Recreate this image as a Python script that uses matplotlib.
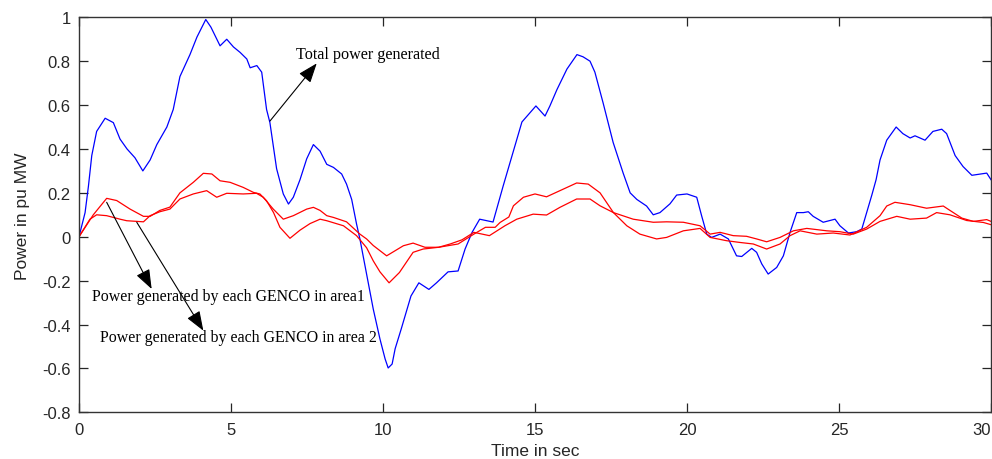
import matplotlib
matplotlib.use("Agg")
import matplotlib.pyplot as plt

# ---------------- data ----------------
t_total = [0, 0.2, 0.31, 0.42, 0.58, 0.86, 1.13, 1.35, 1.58, 1.84, 2.1, 2.34, 2.56, 2.89, 3.1,
           3.32, 3.65, 3.88, 4.17, 4.34, 4.64, 4.86, 5.08, 5.3, 5.52, 5.63, 5.85, 6.01, 6.17,
           6.28, 6.5, 6.72, 6.89, 7.05, 7.27, 7.49, 7.71, 7.93, 8.15, 8.37, 8.64, 8.8, 8.97,
           9.13, 9.24, 9.46, 9.68, 9.9, 10.07, 10.17, 10.3, 10.4, 10.6, 10.92, 11.18, 11.51,
           11.76, 12.14, 12.47, 12.7, 12.93, 13.18, 13.62, 13.95, 14.28, 14.57, 15.03, 15.33,
           15.49, 15.72, 16.05, 16.38, 16.58, 16.81, 16.97, 17.24, 17.57, 17.9, 18.13, 18.35,
           18.67, 18.89, 19.11, 19.44, 19.66, 20.0, 20.32, 20.48, 20.65, 20.81, 21.09, 21.36,
           21.63, 21.8, 22.13, 22.29, 22.46, 22.67, 22.95, 23.17, 23.39, 23.61, 23.83, 23.99,
           24.15, 24.48, 24.87, 25.03, 25.31, 25.58, 25.75, 25.91, 26.08, 26.22, 26.35, 26.57,
           26.88, 27.1, 27.34, 27.5, 27.83, 28.09, 28.38, 28.54, 28.82, 29.08, 29.37, 29.86, 30.0]
p_total = [0, 0.11, 0.23, 0.37, 0.48, 0.54, 0.52, 0.445, 0.40, 0.36, 0.30, 0.35, 0.42, 0.50, 0.58,
           0.73, 0.83, 0.91, 0.99, 0.955, 0.87, 0.90, 0.865, 0.84, 0.81, 0.77, 0.78, 0.75, 0.58,
           0.52, 0.31, 0.195, 0.149, 0.18, 0.26, 0.355, 0.42, 0.39, 0.33, 0.316, 0.286, 0.24, 0.17,
           0.058, -0.01, -0.17, -0.33, -0.466, -0.557, -0.598, -0.58, -0.51, -0.42, -0.27, -0.21, -0.24,
           -0.21, -0.16, -0.156, -0.056, 0.02, 0.08, 0.067, 0.23, 0.386, 0.523, 0.596, 0.55,
           0.596, 0.67, 0.764, 0.83, 0.82, 0.80, 0.75, 0.61, 0.43, 0.29, 0.20, 0.17,
           0.14, 0.10, 0.11, 0.15, 0.19, 0.195, 0.18, 0.096, 0.012, -0.003, 0.012, -0.01,
           -0.087, -0.09, -0.053, -0.071, -0.124, -0.17, -0.14, -0.087, 0.02, 0.11, 0.11, 0.114,
           0.093, 0.066, 0.08, 0.05, 0.017, 0.023, 0.035, 0.11, 0.19, 0.26, 0.35, 0.44,
           0.50, 0.47, 0.45, 0.46, 0.44, 0.48, 0.49, 0.47, 0.37, 0.32, 0.28, 0.29, 0.26]

t_area1 = [0, 0.47, 0.91, 1.24, 1.68, 2.12, 2.34, 2.66, 2.99, 3.32, 3.76, 4.09, 4.37, 4.64, 4.97,
           5.4, 5.74, 5.95, 6.17, 6.4, 6.61, 6.94, 7.27, 7.6, 7.93, 8.15, 8.7, 9.13, 9.46, 9.68,
           9.9, 10.2, 10.54, 10.99, 11.32, 11.83, 12.47, 12.99, 13.37, 13.69, 13.85, 14.14, 14.29,
           14.62, 15.0, 15.38, 15.82, 16.37, 16.75, 17.14, 17.58, 18.02, 18.45, 19.0, 19.33, 19.88,
           20.43, 20.76, 21.3, 21.74, 22.18, 22.62, 23.06, 23.39, 23.72, 24.27, 24.81, 25.36,
           25.91, 26.35, 26.57, 26.84, 27.34, 27.88, 28.43, 28.65, 29.04, 29.42, 29.86, 30.0]
p_area1 = [0, 0.10, 0.175, 0.165, 0.126, 0.093, 0.093, 0.12, 0.135, 0.20, 0.248, 0.289, 0.286, 0.255, 0.248,
           0.225, 0.202, 0.195, 0.164, 0.11, 0.043, -0.007, 0.03, 0.06, 0.08, 0.073, 0.05, 0.005, -0.05, -0.11,
           -0.16, -0.21, -0.163, -0.071, -0.056, -0.048, -0.033, 0.012, 0.043, 0.043, 0.065, 0.09, 0.141,
           0.18, 0.195, 0.182, 0.21, 0.245, 0.24, 0.2, 0.11, 0.05, 0.012, -0.01, -0.003, 0.027,
           0.038, -0.003, -0.018, -0.026, -0.033, -0.056, -0.033, 0.005, 0.027, 0.012, 0.017, 0.008,
           0.043, 0.096, 0.14, 0.157, 0.146, 0.13, 0.14, 0.12, 0.085, 0.07, 0.078, 0.07]

t_area2 = [0, 0.36, 0.58, 0.91, 1.35, 1.57, 2.12, 2.34, 2.66, 2.99, 3.32, 3.76, 4.2, 4.53, 4.86,
           5.4, 5.84, 6.06, 6.39, 6.72, 7.05, 7.49, 7.71, 7.93, 8.15, 8.37, 8.8, 9.24, 9.46, 9.68,
           10.12, 10.67, 10.99, 11.38, 11.83, 12.21, 12.6, 12.99, 13.5, 14.01, 14.4, 14.94, 15.38,
           15.82, 16.37, 16.81, 17.14, 17.58, 18.23, 18.89, 19.33, 19.88, 20.43, 20.76, 21.09,
           21.52, 21.96, 22.29, 22.62, 23.06, 23.5, 23.94, 24.6, 25.03, 25.47, 25.91, 26.35,
           26.9, 27.34, 27.88, 28.21, 28.65, 29.2, 29.75, 30.0]
p_area2 = [0, 0.08, 0.10, 0.096, 0.08, 0.073, 0.068, 0.096, 0.114, 0.126, 0.172, 0.195, 0.21, 0.18, 0.198,
           0.195, 0.198, 0.18, 0.126, 0.08, 0.096, 0.126, 0.134, 0.12, 0.096, 0.088, 0.068, 0.012, -0.01, -0.04,
           -0.087, -0.041, -0.029, -0.048, -0.048, -0.033, -0.014, 0.02, 0.005, 0.05, 0.08, 0.103, 0.099,
           0.134, 0.172, 0.172, 0.141, 0.11, 0.08, 0.066, 0.068, 0.066, 0.05, 0.012, 0.02,
           0.005, 0.002, -0.01, -0.023, -0.003, 0.027, 0.038, 0.027, 0.023, 0.012, 0.035, 0.07,
           0.093, 0.08, 0.085, 0.11, 0.1, 0.074, 0.065, 0.055]

x_ticks = [0, 5, 10, 15, 20, 25, 30]
x_tick_labels = ["0", "5", "10", "15", "20", "25", "30"]
y_ticks = [-0.8, -0.6, -0.4, -0.2, 0, 0.2, 0.4, 0.6, 0.8, 1]
y_tick_labels = ["-0.8", "-0.6", "-0.4", "-0.2", "0", "0.2", "0.4", "0.6", "0.8", "1"]

label_total = "Total power generated"
label_area1 = "Power generated by each GENCO in area1"
label_area2 = "Power generated by each GENCO in area 2"

# ---------------- figure ----------------
fig = plt.figure(figsize=(9.92, 4.6), dpi=100)
ax = fig.add_axes([79 / 992, 1 - 413.3 / 460, (991 - 79) / 992, (413.3 - 18.3) / 460])

ax.plot(t_total, p_total, color="#0000ff", lw=0.9)
ax.plot(t_area1, p_area1, color="#ff0000", lw=0.9)
ax.plot(t_area2, p_area2, color="#ff0000", lw=0.9)

ax.set_xlim(0, 30)
ax.set_ylim(-0.8, 1)
ax.set_xticks(x_ticks)
ax.set_xticklabels(x_tick_labels)
ax.set_yticks(y_ticks)
ax.set_yticklabels(y_tick_labels)

sans = ["Liberation Sans", "DejaVu Sans"]
for lab in ax.get_xticklabels() + ax.get_yticklabels():
    lab.set_fontfamily(sans)
    lab.set_fontsize(12)
    lab.set_color("#262626")
# last x tick label sits inside the figure, as in the reference
ax.get_xticklabels()[-1].set_horizontalalignment("right")
ax.get_xticklabels()[-1].set_x(30)

ax.tick_params(direction="in", length=6.5, width=0.9, color="#262626",
               top=True, right=True)
ax.tick_params(axis="x", pad=7)
ax.tick_params(axis="y", pad=6)
for s in ax.spines.values():
    s.set_color("#333333")
    s.set_linewidth(1.0)

ax.set_xlabel("Time in sec", fontsize=12.5, family=sans, color="#262626", labelpad=4)
ax.set_ylabel("Power in pu MW", fontsize=12.5, family=sans, color="#262626", labelpad=9)

serif = ["Liberation Serif", "DejaVu Serif"]
arrow = dict(arrowstyle="-|>,head_length=0.8,head_width=0.3", color="black", lw=0.8,
             shrinkA=0, shrinkB=0, mutation_scale=15)

ax.text(7.14, 0.833, label_total, family=serif, fontsize=11.6, va="center", ha="left")
ax.annotate("", xy=(7.82, 0.79), xytext=(6.28, 0.527), arrowprops=arrow)

ax.text(0.42, -0.269, label_area1, family=serif, fontsize=11.4, va="center", ha="left")
ax.annotate("", xy=(2.39, -0.238), xytext=(0.91, 0.157), arrowprops=arrow)

ax.text(0.69, -0.459, label_area2, family=serif, fontsize=11.4, va="center", ha="left")
ax.annotate("", xy=(4.09, -0.428), xytext=(1.9, 0.066), arrowprops=arrow)

fig.savefig("out.png", dpi=100)
